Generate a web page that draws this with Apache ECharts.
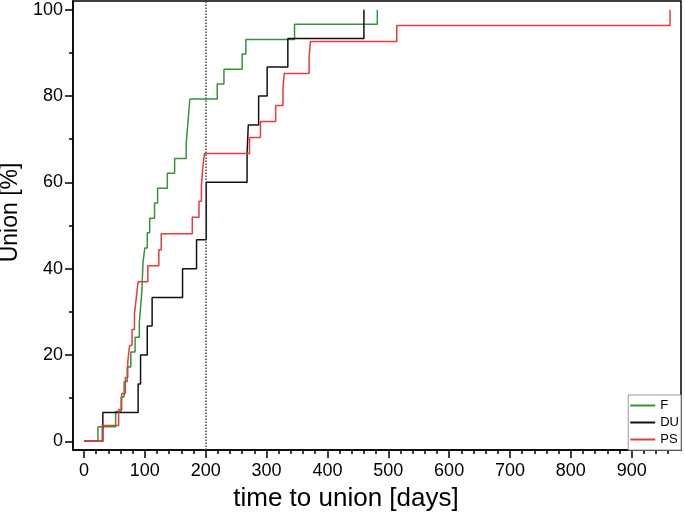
<!DOCTYPE html>
<html>
<head>
<meta charset="utf-8">
<script src="https://cdn.jsdelivr.net/npm/echarts@6/dist/echarts.min.js"></script>
<style>
  html, body { margin: 0; padding: 0; background: #fff; }
  #chart { width: 685px; height: 516px; }
</style>
</head>
<body>
<div id="chart"></div>
<script>
// step curves: day at which each step happens, and the level after it (%)
var fDays   = [0, 23, 52, 61, 66, 71, 77, 84, 91, 93, 95, 96, 97, 100, 104, 108, 116, 121, 137, 149, 168, 170, 172, 174, 219, 230, 260, 266, 346, 482];
var fValues = [0, 3.4, 6.9, 10.3, 13.8, 17.2, 20.7, 24.1, 27.6, 31.0, 34.5, 37.9, 41.4, 44.8, 48.3, 51.7, 55.2, 58.6, 62.1, 65.5, 69.0, 72.4, 75.9, 79.3, 82.8, 86.2, 89.7, 93.1, 96.6, 100];

var duDays   = [0, 31, 89, 93, 104, 112, 162, 185, 201, 268, 270, 287, 301, 335, 460];
var duValues = [0, 6.7, 13.3, 20.0, 26.7, 33.3, 40.0, 46.7, 60.0, 66.7, 73.3, 80.0, 86.7, 93.3, 100];

var psDays   = [0, 30, 57, 62, 68, 72, 75, 79, 83, 86, 89, 105, 123, 127, 178, 189, 193, 195, 198, 272, 290, 315, 327, 329, 370, 372, 514, 963];
var psValues = [0, 3.7, 7.4, 11.1, 14.8, 18.5, 22.2, 25.9, 29.6, 33.3, 37.0, 40.7, 44.4, 48.1, 51.9, 55.6, 59.3, 63.0, 66.7, 70.4, 74.1, 77.8, 81.5, 85.2, 88.9, 92.6, 96.3, 100];

var xMajor = [0, 100, 200, 300, 400, 500, 600, 700, 800, 900];
var xMinor = [20, 40, 60, 80, 120, 140, 160, 180, 220, 240, 260, 280, 320, 340, 360, 380,
  420, 440, 460, 480, 520, 540, 560, 580, 620, 640, 660, 680, 720, 740, 760, 780,
  820, 840, 860, 880, 920, 940, 960];
var yMajor = [0, 20, 40, 60, 80, 100];
var yMinor = [10, 30, 50, 70, 90];
var cutoffDay = 200;

function pairs(xs, ys) {
  return xs.map(function (x, i) { return [x, ys[i]]; });
}

var font = '"Liberation Sans", Arial, sans-serif';
var black = '#000';
var green = '#37923a';
var red = '#e53c3c';
var dark = '#111';

var myChart = echarts.init(document.getElementById('chart'));

var option = {
  animation: false,
  textStyle: { fontFamily: font },
  grid: {
    left: 73, right: 4, top: 1, bottom: 66,
    outerBoundsMode: 'none',
    containLabel: false,
    show: true, borderColor: black, borderWidth: 1.5, backgroundColor: '#fff'
  },
  legend: {
    orient: 'vertical',
    right: 4, bottom: 66,
    data: [
      { name: 'F', icon: 'rect', itemStyle: { color: green } },
      { name: 'DU', icon: 'rect', itemStyle: { color: dark } },
      { name: 'PS', icon: 'rect', itemStyle: { color: red } }
    ],
    itemWidth: 25, itemHeight: 2, itemGap: 2,
    padding: [3, 2, 3, 2],
    borderColor: '#999', borderWidth: 1, backgroundColor: '#fff',
    textStyle: { fontSize: 13, color: black, fontFamily: font, lineHeight: 15 }
  },
  xAxis: [
    {
      type: 'value', min: -18, max: 981, position: 'bottom',
      name: 'time to union [days]', nameLocation: 'middle', nameGap: 36,
      nameTextStyle: { fontSize: 26, color: black, fontFamily: font, padding: [0, 62, 0, 0] },
      axisLine: { show: true, onZero: false, lineStyle: { color: black, width: 1.5 } },
      axisTick: { show: true, customValues: xMajor, length: 8, lineStyle: { color: black, width: 1.5 } },
      axisLabel: { customValues: xMajor, fontSize: 18, color: black, margin: 12, fontFamily: font },
      splitLine: { show: false }
    },
    {
      type: 'value', min: -18, max: 981, position: 'bottom', offset: 0,
      axisLine: { show: false, onZero: false },
      axisTick: { show: true, customValues: xMinor, length: 4, lineStyle: { color: black, width: 1.5 } },
      axisLabel: { show: false },
      splitLine: { show: false }
    }
  ],
  yAxis: [
    {
      type: 'value', min: -2, max: 102, position: 'left',
      name: 'Union [%]', nameLocation: 'middle', nameGap: 49, nameRotate: 90,
      nameTextStyle: { fontSize: 23, color: black, fontFamily: font, padding: [0, 0, 0, 26] },
      axisLine: { show: true, onZero: false, lineStyle: { color: black, width: 1.5 } },
      axisTick: { show: true, customValues: yMajor, length: 8, lineStyle: { color: black, width: 1.5 } },
      axisLabel: { customValues: yMajor, fontSize: 18, color: black, margin: 10, fontFamily: font },
      splitLine: { show: false }
    },
    {
      type: 'value', min: -2, max: 102, position: 'left', offset: 0,
      axisLine: { show: false, onZero: false },
      axisTick: { show: true, customValues: yMinor, length: 4, lineStyle: { color: black, width: 1.5 } },
      axisLabel: { show: false },
      splitLine: { show: false }
    }
  ],
  series: [
    {
      name: 'F', type: 'line', step: 'end', symbol: 'none',
      data: pairs(fDays, fValues),
      itemStyle: { color: green },
      lineStyle: { color: green, width: 1.5 },
      markLine: {
        silent: true, symbol: 'none', label: { show: false },
        lineStyle: { color: '#444', type: 'dotted', width: 1.5 },
        data: [{ xAxis: cutoffDay }]
      }
    },
    {
      name: 'DU', type: 'line', step: 'end', symbol: 'none',
      data: pairs(duDays, duValues),
      itemStyle: { color: dark },
      lineStyle: { color: dark, width: 1.5 }
    },
    {
      name: 'PS', type: 'line', step: 'end', symbol: 'none',
      data: pairs(psDays, psValues),
      itemStyle: { color: red },
      lineStyle: { color: red, width: 1.5 }
    }
  ]
};

myChart.setOption(option);
</script>
</body>
</html>
